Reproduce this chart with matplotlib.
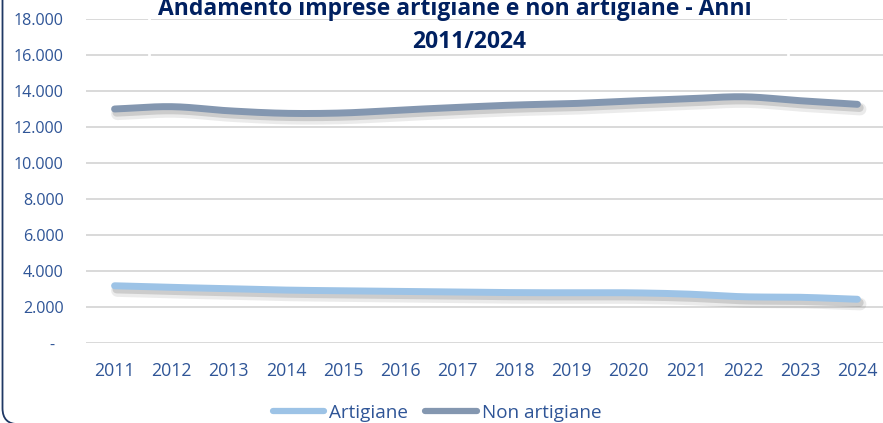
import numpy as np
import matplotlib
matplotlib.use("Agg")
import matplotlib.pyplot as plt
import matplotlib.patheffects as pe
from matplotlib.patches import FancyBboxPatch, Rectangle
from matplotlib.lines import Line2D

plt.rcParams['font.family'] = ['Open Sans', 'DejaVu Sans']

anni = ['2011', '2012', '2013', '2014', '2015', '2016', '2017',
        '2018', '2019', '2020', '2021', '2022', '2023', '2024']
artigiane = [3180, 3090, 3020, 2940, 2900, 2860, 2830,
             2800, 2790, 2790, 2720, 2570, 2540, 2430]
non_artigiane = [13000, 13130, 12900, 12760, 12780, 12940, 13090,
                 13220, 13300, 13440, 13560, 13680, 13460, 13260]
y_ticks = [0, 2000, 4000, 6000, 8000, 10000, 12000, 14000, 16000, 18000]

col_art = '#9DC3E6'
col_non = '#8497B0'
col_txt = '#2F5597'
col_title = '#002060'


def smooth(y, n=20):
    # curva catmull-rom tra i punti, come le linee smussate di Excel
    y = np.asarray(y, dtype=float)
    p = np.concatenate([[2 * y[0] - y[1]], y, [2 * y[-1] - y[-2]]])
    xs, ys = [], []
    for i in range(len(y) - 1):
        t = np.linspace(0, 1, n, endpoint=False)
        p0, p1, p2, p3 = p[i], p[i + 1], p[i + 2], p[i + 3]
        v = 0.5 * ((2 * p1) + (-p0 + p2) * t + (2 * p0 - 5 * p1 + 4 * p2 - p3) * t ** 2
                   + (-p0 + 3 * p1 - 3 * p2 + p3) * t ** 3)
        xs.append(i + t)
        ys.append(v)
    xs.append([len(y) - 1])
    ys.append([y[-1]])
    return np.concatenate(xs), np.concatenate(ys)


W, H = 883, 423
fig = plt.figure(figsize=(W / 100, H / 100), dpi=100)
fig.patch.set_facecolor('white')

# bordo arrotondato dell'area grafico (in pollici, angolo di ~15 px)
fig.patches.append(FancyBboxPatch((0.025, -0.012), 12, 8, boxstyle='round,pad=0,rounding_size=0.16',
                                  transform=fig.dpi_scale_trans, fill=False, edgecolor='#1F3864',
                                  linewidth=1.3, zorder=0))

left, right = 86 / W, 886 / W
bottom, top = (H - 343) / H, (H - 19) / H
ax = fig.add_axes([left, bottom, right - left, top - bottom])
ax.set_facecolor('none')
ax.set_xlim(-0.5, len(anni) - 0.5)
ax.set_ylim(0, 18000)
for s in ax.spines.values():
    s.set_visible(False)
ax.set_yticks(y_ticks)
ax.set_yticklabels(['-  '] + [f'{v:,}'.replace(',', '.') for v in y_ticks[1:]])
ax.set_xticks(range(len(anni)))
ax.set_xticklabels(anni)
ax.tick_params(axis='both', length=0, labelsize=12.8, labelcolor=col_txt)
ax.tick_params(axis='y', pad=16, labelsize=11.6)
ax.tick_params(axis='x', pad=14)
ax.grid(axis='y', color='#D9D9D9', linewidth=1.4)
ax.set_axisbelow(True)

shadow = [pe.SimpleLineShadow(offset=(2, -3.5), shadow_color='#404040', alpha=0.10, linewidth=9),
          pe.SimpleLineShadow(offset=(1.5, -2.5), shadow_color='#404040', alpha=0.18, linewidth=6),
          pe.Normal()]
for vals, c, lab in [(artigiane, col_art, 'Artigiane'), (non_artigiane, col_non, 'Non artigiane')]:
    xs, ys = smooth(vals)
    ax.plot(xs, ys, color=c, linewidth=5, solid_capstyle='round', label=lab,
            path_effects=shadow, zorder=3)

# riquadro del titolo
fig.patches.append(Rectangle((149 / W, (H - 62) / H), (788 - 149) / W, 70 / H, transform=fig.transFigure,
                             fill=False, edgecolor='white', linewidth=2, zorder=2))
fig.text(455 / W, (H - 9) / H, 'Andamento imprese artigiane e non artigiane - Anni',
         ha='center', va='center', fontsize=16.5, fontweight='bold', color=col_title)
fig.text(469 / W, (H - 42) / H, '2011/2024',
         ha='center', va='center', fontsize=16.5, fontweight='bold', color=col_title)

handles = [Line2D([], [], color=col_art, linewidth=4.5, solid_capstyle='round'),
           Line2D([], [], color=col_non, linewidth=4.5, solid_capstyle='round')]
fig.legend(handles, ['Artigiane', 'Non artigiane'], loc='center', bbox_to_anchor=(437 / W, (H - 413) / H),
           ncol=2, frameon=False, fontsize=13.6, labelcolor=col_txt, handlelength=2.75,
           handletextpad=0.25, columnspacing=0.9)

fig.savefig('out.png', dpi=100)
